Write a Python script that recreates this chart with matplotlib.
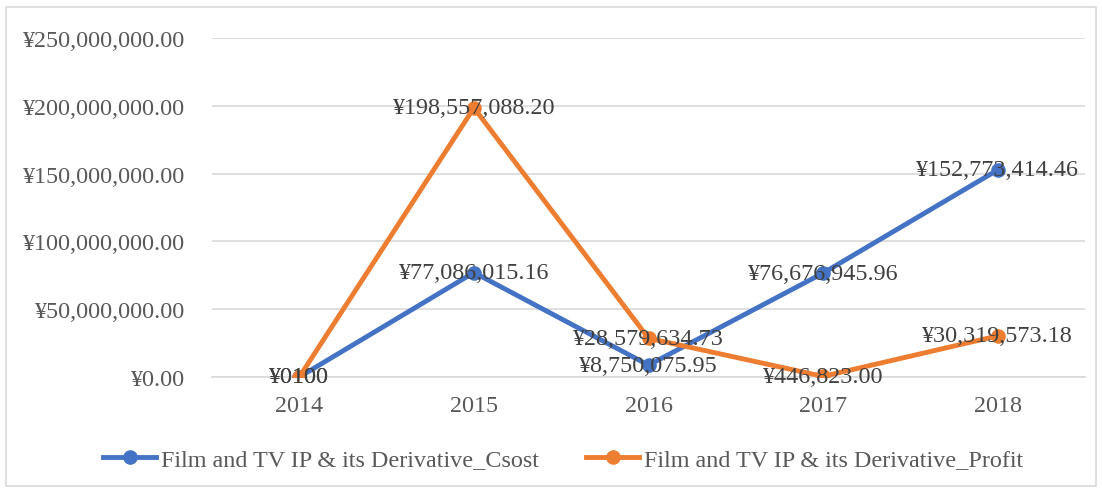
import matplotlib.pyplot as plt
from matplotlib.patches import Rectangle
import numpy as np

years = ["2014", "2015", "2016", "2017", "2018"]
cost = [0, 77086015.16, 8750075.95, 76676945.96, 152773414.46]
profit = [0, 198557088.20, 28579634.73, 446823.00, 30319573.18]
cost_labels = ["¥0100", "¥77,086,015.16", "¥8,750,075.95", "¥76,676,945.96", "¥152,773,414.46"]
profit_labels = ["¥0100", "¥198,557,088.20", "¥28,579,634.73", "¥446,823.00", "¥30,319,573.18"]
yticks = [0, 50e6, 100e6, 150e6, 200e6, 250e6]

plt.rcParams['font.family'] = ['Liberation Serif', 'DejaVu Serif']
fs = 17.4

fig = plt.figure(figsize=(11.02, 4.89), dpi=100)
ax = fig.add_axes([0.1924, 0.227, 0.7922, 0.693])

# outer chart border
fig.patches.append(Rectangle((6 / 1102, 2 / 489), 1090 / 1102, 479 / 489,
                             transform=fig.transFigure, fill=False,
                             edgecolor='#d9d9d9', linewidth=1.2))

x = np.arange(len(years))
blue = '#4472c4'
orange = '#ed7d31'
ax.plot(x, cost, '-o', color=blue, lw=3.5, ms=9.5, zorder=3,
        label="Film and TV IP & its Derivative_Csost")
ax.plot(x, profit, '-o', color=orange, lw=3.5, ms=9.5, zorder=3,
        label="Film and TV IP & its Derivative_Profit")

#data labels, centered on points
for i in range(len(x)):
    ax.text(x[i], cost[i], cost_labels[i], ha='center', va='center',
            fontsize=fs, color='#404040', zorder=4)
    ax.text(x[i], profit[i], profit_labels[i], ha='center', va='center',
            fontsize=fs, color='#404040', zorder=4)

ax.set_xlim(-0.5, 4.5)
ax.set_ylim(0, 250e6)
ax.set_yticks(yticks)
ax.set_yticklabels(["¥{:,.2f}".format(v) for v in yticks])
ax.set_xticks(x)
ax.set_xticklabels(years)
ax.tick_params(axis='both', length=0, labelsize=fs, labelcolor='#595959')
ax.tick_params(axis='y', pad=19.5)
ax.tick_params(axis='x', pad=13)
ax.grid(axis='y', color='#d9d9d9', lw=1.2)
ax.set_axisbelow(True)
for s in ["top", "right", "left"]:
    ax.spines[s].set_visible(False)
ax.spines["bottom"].set_color('#d9d9d9')
ax.spines["bottom"].set_linewidth(1.2)

leg = fig.legend(loc='center', bbox_to_anchor=(0.511, 0.059), ncol=2,
                 frameon=False, fontsize=fs, handlelength=2.2,
                 columnspacing=1.95, handletextpad=0.2)
for t in leg.get_texts():
    t.set_color('#595959')

fig.savefig('out.png', dpi=100)
